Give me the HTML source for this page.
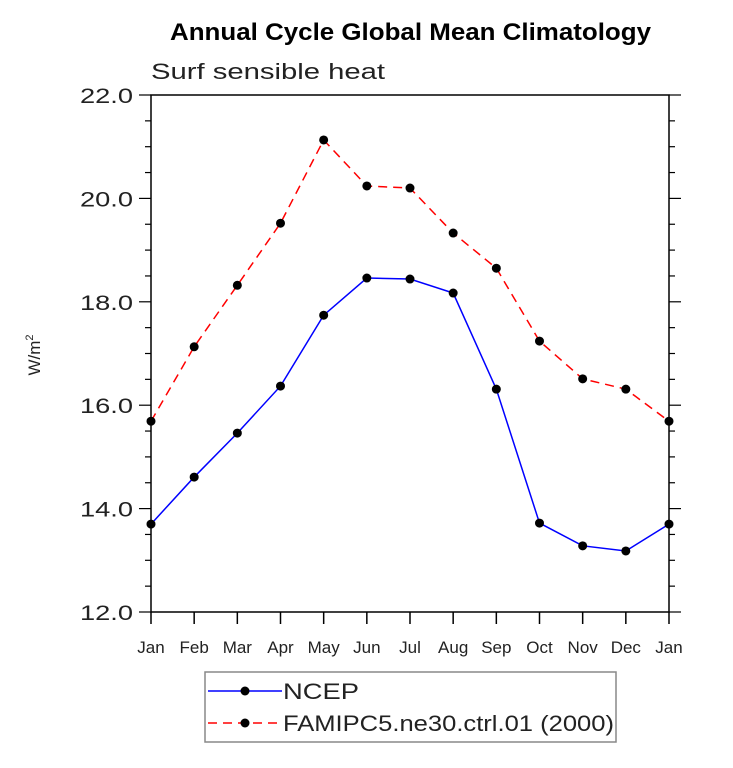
<!DOCTYPE html>
<html><head><meta charset="utf-8"><style>
body{margin:0;background:#fff;}
svg text{font-family:"Liberation Sans",sans-serif;}
</style></head><body>
<svg id="c" width="733" height="763" xmlns="http://www.w3.org/2000/svg">
<text x="170" y="40" font-size="24" font-weight="bold" textLength="481" lengthAdjust="spacingAndGlyphs">Annual Cycle Global Mean Climatology</text>
<text x="151" y="79" font-size="22" fill="#222" textLength="234" lengthAdjust="spacingAndGlyphs">Surf sensible heat</text>
<text transform="translate(40,355) rotate(-90)" text-anchor="middle" font-size="17" fill="#222">W/m<tspan dy="-7" font-size="11">2</tspan></text>
<g id="ax"></g><g id="ser"></g>
<rect x="205" y="672" width="411" height="70" fill="none" stroke="#888" stroke-width="1.5"/>
<g>
<line x1="208" y1="691" x2="282" y2="691" stroke="#0000ff" stroke-width="1.5"/>
<circle cx="245" cy="691" r="4.5" fill="#000"/>
<text x="283" y="699" font-size="22" fill="#222" textLength="76" lengthAdjust="spacingAndGlyphs">NCEP</text></g>
<g>
<line x1="208" y1="723" x2="282" y2="723" stroke="#ff0000" stroke-width="1.5" stroke-dasharray="9,6"/>
<circle cx="245" cy="723" r="4.5" fill="#000"/>
<text x="283" y="731" font-size="22" fill="#222" textLength="331" lengthAdjust="spacingAndGlyphs">FAMIPC5.ne30.ctrl.01 (2000)</text></g>
</svg>
<script>
const months=["Jan","Feb","Mar","Apr","May","Jun","Jul","Aug","Sep","Oct","Nov","Dec","Jan"];
const ncep=[13.70,14.61,15.46,16.37,17.74,18.46,18.44,18.17,16.31,13.72,13.28,13.18,13.70];
const famip=[15.69,17.13,18.32,19.52,21.13,20.24,20.20,19.33,18.65,17.24,16.51,16.31,15.69];
const yTicks=["12.0","14.0","16.0","18.0","20.0","22.0"];
const L=151,R=669,T=95,B=612,ymin=12,ymax=22;
const sx=i=>L+(R-L)*i/12;
const sy=v=>B-(B-T)*(v-ymin)/(ymax-ymin);
const NS="http://www.w3.org/2000/svg";
function mk(t,a,p){const e=document.createElementNS(NS,t);for(const k in a)e.setAttribute(k,a[k]);p.appendChild(e);return e;}
const ax=document.getElementById('ax');
const frame=mk('rect',{x:L,y:T,width:R-L,height:B-T,fill:'none',stroke:'#000','stroke-width':1.5},ax);


months.forEach((m,i)=>{
 mk('line',{x1:sx(i),y1:B,x2:sx(i),y2:B+12,stroke:'#000','stroke-width':1.5},ax);
 const t=mk('text',{x:sx(i),y:B+41,'text-anchor':'middle','font-size':17,fill:'#222'},ax);
 t.textContent=m;
 
 
});
for(let v=ymin;v<=ymax+0.001;v+=0.5){
 const maj=Math.abs(v-Math.round(v/2)*2)<0.01;
 const len=maj?12:6;
 mk('line',{x1:L-len,y1:sy(v),x2:L,y2:sy(v),stroke:'#000','stroke-width':1.2},ax);
 mk('line',{x1:R,y1:sy(v),x2:R+len,y2:sy(v),stroke:'#000','stroke-width':1.2},ax);
}
yTicks.forEach(s=>{
 const t=mk('text',{x:L-18,y:sy(parseFloat(s))+8,'text-anchor':'end','font-size':21,fill:'#222',textLength:53,lengthAdjust:'spacingAndGlyphs'},ax);
 t.textContent=s;
 
 
});
const g=document.getElementById('ser');
function series(vals,color,dash,name){
 const p=mk('polyline',{points:vals.map((v,i)=>sx(i)+','+sy(v)).join(' '),fill:'none',stroke:color,'stroke-width':1.5,'stroke-dasharray':dash},g);
 
 
 vals.forEach((v,i)=>{
  const c=mk('circle',{cx:sx(i),cy:sy(v),r:4.5,fill:'#000'},g);
  
  
 });
}
series(famip,'#ff0000','9,6','famip');
series(ncep,'#0000ff','none','ncep');
</script>
</body></html>
